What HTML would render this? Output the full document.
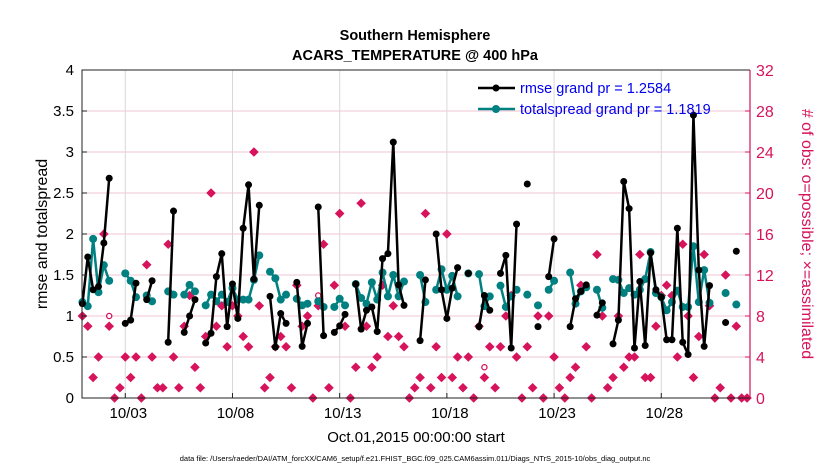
<!DOCTYPE html>
<html><head><meta charset="utf-8"><style>
body{margin:0;background:#fff;}
svg{display:block;font-family:"Liberation Sans",Arial,sans-serif;}
</style></head><body>
<svg id="chart" width="830" height="470" viewBox="0 0 830 470">
<rect x="0" y="0" width="830" height="470" fill="#fff"/>
<g id="grid"></g>
<g id="obs"></g>
<g id="spreadG"></g>
<g id="rmseG"></g>
<g id="axes"></g>
<text x="415" y="40" text-anchor="middle" font-size="14.5" font-weight="bold">Southern Hemisphere</text>
<text x="415" y="60" text-anchor="middle" font-size="14.5" font-weight="bold">ACARS_TEMPERATURE @ 400 hPa</text>
<text x="416" y="442" text-anchor="middle" font-size="15">Oct.01,2015 00:00:00 start</text>
<text x="415" y="461" text-anchor="middle" font-size="7.5">data file: /Users/raeder/DAI/ATM_forcXX/CAM6_setup/f.e21.FHIST_BGC.f09_025.CAM6assim.011/Diags_NTrS_2015-10/obs_diag_output.nc</text>
<text transform="translate(47,234) rotate(-90)" text-anchor="middle" font-size="16">rmse and totalspread</text>
<text transform="translate(802,234) rotate(90)" text-anchor="middle" font-size="16" fill="#d6135b"># of obs: o=possible; ×=assimilated</text>
<g>
<line x1="478" y1="88" x2="515" y2="88" stroke="#000" stroke-width="2.5"/>
<circle cx="496" cy="88" r="3.5" fill="#000"/>
<text x="520" y="93" font-size="14.5" fill="#0000ee">rmse grand pr = 1.2584</text>
<line x1="478" y1="109" x2="515" y2="109" stroke="#008080" stroke-width="2.5"/>
<circle cx="496" cy="109" r="4" fill="#008080"/>
<text x="520" y="114" font-size="14.5" fill="#0000ee">totalspread grand pr = 1.1819</text>
</g>
</svg>
<script>
const n=null;
const rmse=[1.15,1.72,1.32,1.36,1.89,2.68,n,n,0.91,0.95,1.40,n,1.20,1.43,n,n,0.68,2.28,n,0.80,1.00,1.20,n,0.67,0.79,1.48,1.76,0.87,1.39,0.97,2.07,2.60,1.45,2.35,n,1.24,0.62,1.03,0.91,n,1.41,0.63,0.91,n,2.33,0.76,n,0.80,0.88,1.02,n,1.39,0.84,1.07,1.11,0.81,1.70,1.76,3.12,1.38,1.13,n,n,0.70,1.44,n,2.00,1.32,0.97,1.34,1.59,n,1.52,n,0.87,1.25,1.07,n,1.52,1.74,0.61,2.12,n,2.61,n,0.87,n,1.48,1.94,n,n,0.87,1.21,1.30,1.38,n,1.01,1.16,n,0.66,0.95,2.64,2.31,0.61,1.42,0.64,1.77,1.32,1.23,0.71,0.71,2.07,0.68,0.53,3.45,1.56,0.63,1.37,n,n,0.92,n,1.79,n,n];
const spread=[1.17,1.12,1.94,1.29,1.62,1.43,n,n,1.52,1.43,1.23,n,1.25,1.18,n,n,1.30,1.26,n,1.26,1.38,1.30,n,1.13,1.26,1.18,1.26,1.17,1.34,1.20,1.20,1.20,1.44,1.74,n,1.54,1.46,1.20,1.26,n,1.21,1.13,1.15,n,1.18,1.11,n,1.11,1.21,1.13,n,1.39,1.22,1.15,1.41,1.20,1.53,1.24,1.50,1.24,1.42,n,n,1.50,1.17,n,1.32,1.57,1.32,1.49,1.24,n,1.52,n,1.51,1.12,1.24,n,1.37,1.11,1.24,1.32,n,1.26,n,1.13,n,1.32,1.43,n,n,1.53,1.15,1.30,1.35,n,1.32,1.10,n,1.45,1.44,1.28,1.34,1.26,1.32,1.45,1.78,1.28,1.23,1.07,1.17,1.31,1.11,1.11,1.85,1.17,1.56,1.16,n,n,1.28,n,1.14,n,n];
const obsCount=[8,7,2,4,16,7,0,1,4,2,4,0,13,4,1,1,15,4,1,7,10,3,1,6,20,7,9,5,9,8,6,5,24,9,1,2,5,6,5,1,11,7,8,0,9,15,1,11,18,7,0,3,19,7,3,4,11,6,9,6,5,0,1,2,18,1,5,2,16,2,4,1,4,0,7,2,5,1,5,8,10,4,0,5,1,8,0,8,4,1,0,2,3,11,5,0,14,8,1,2,8,3,4,4,14,2,2,7,10,11,10,4,15,8,2,6,14,9,0,1,12,0,7,0,0];
const possibleIdx=[5,44,75];
const possibleVal=[8,10,3];
const leftTicks=[0,0.5,1,1.5,2,2.5,3,3.5,4];
const leftTickLabels=["0","0.5","1","1.5","2","2.5","3","3.5","4"];
const rightTicks=[0,4,8,12,16,20,24,28,32];
const dateTicks=[2,7,12,17,22,27];
const dateLabels=["10/03","10/08","10/13","10/18","10/23","10/28"];

const L=82,R=750,T=70,B=398,RED="#d6135b",TEAL="#008080";
const xDay=d=>82.4+d*21.44;
const xi=i=>xDay(i/4);
const yL=v=>B-(v/4)*(B-T);
const yR=v=>B-(v/32)*(B-T);
const NS="http://www.w3.org/2000/svg";
function mk(tag,attrs,parent){const e=document.createElementNS(NS,tag);for(const k in attrs)e.setAttribute(k,attrs[k]);parent.appendChild(e);return e;}
const grid=document.getElementById('grid'),axes=document.getElementById('axes');
leftTicks.forEach((v,k)=>{
  if(k>0&&k<leftTicks.length-1){const g=mk('line',{x1:L,x2:R,y1:yL(v),y2:yL(v),stroke:"#f2c4d4","stroke-width":1},grid);
  
  }
  const t=mk('line',{x1:L,x2:L+5,y1:yL(v),y2:yL(v),stroke:"#222"},axes);
  
  
  const lb=mk('text',{x:L-8,y:yL(v)+5,"text-anchor":"end","font-size":15},axes);lb.textContent=leftTickLabels[k];
  
  
});
rightTicks.forEach(v=>{
  const t=mk('line',{x1:R-5,x2:R,y1:yR(v),y2:yR(v),stroke:RED},axes);
  
  
  const lb=mk('text',{x:R+6,y:yR(v)+6,"font-size":16,fill:RED},axes);lb.textContent=String(v);
  
  
});
dateTicks.forEach((d,k)=>{
  const g=mk('line',{x1:xDay(d),x2:xDay(d),y1:T,y2:B,stroke:"#d8d8d8"},grid);
  
  
  const t=mk('line',{x1:xDay(d),x2:xDay(d),y1:B,y2:B-5,stroke:"#222"},axes);
  
  
  const lb=mk('text',{x:xDay(d)+3,y:B+20,"text-anchor":"middle","font-size":15},axes);lb.textContent=dateLabels[k];
  
  
});
const ax=mk('path',{d:`M${R} ${T}H${L}V${B}H${R}`,fill:"none",stroke:"#222","stroke-width":1},axes);


const ra=mk('line',{x1:R,x2:R,y1:T,y2:B,stroke:RED,"stroke-width":1.2},axes);



const obsG=document.getElementById('obs');
obsCount.forEach((v,i)=>{
  if(v===null)return;const x=xi(i),y=yR(v),s=4.8;
  const p=mk('path',{d:`M${x} ${y-s}L${x+s} ${y}L${x} ${y+s}L${x-s} ${y}Z`,fill:RED},obsG);
  
  
});
possibleIdx.forEach((i,k)=>{
  const c=mk('circle',{cx:xi(i),cy:yR(possibleVal[k]),r:2.6,fill:"#fff",stroke:RED,"stroke-width":1.3},obsG);
  
  
});
function series(arr,g,color,r,w){
  let seg=[];
  const flush=()=>{if(seg.length>1){const pl=mk('polyline',{points:seg.map(p=>p.join(',')).join(' '),fill:"none",stroke:color,"stroke-width":w,"stroke-linejoin":"round"},g);
    
    }seg=[];};
  arr.forEach((v,i)=>{if(v===null){flush();return;}seg.push([xi(i),yL(v)]);});flush();
  arr.forEach((v,i)=>{if(v===null)return;const c=mk('circle',{cx:xi(i),cy:yL(v),r:r,fill:color},g);
    
    });
}
series(spread,document.getElementById('spreadG'),TEAL,4,2.5);
series(rmse,document.getElementById('rmseG'),"#000",3.5,2.5);
</script>
</body></html>
